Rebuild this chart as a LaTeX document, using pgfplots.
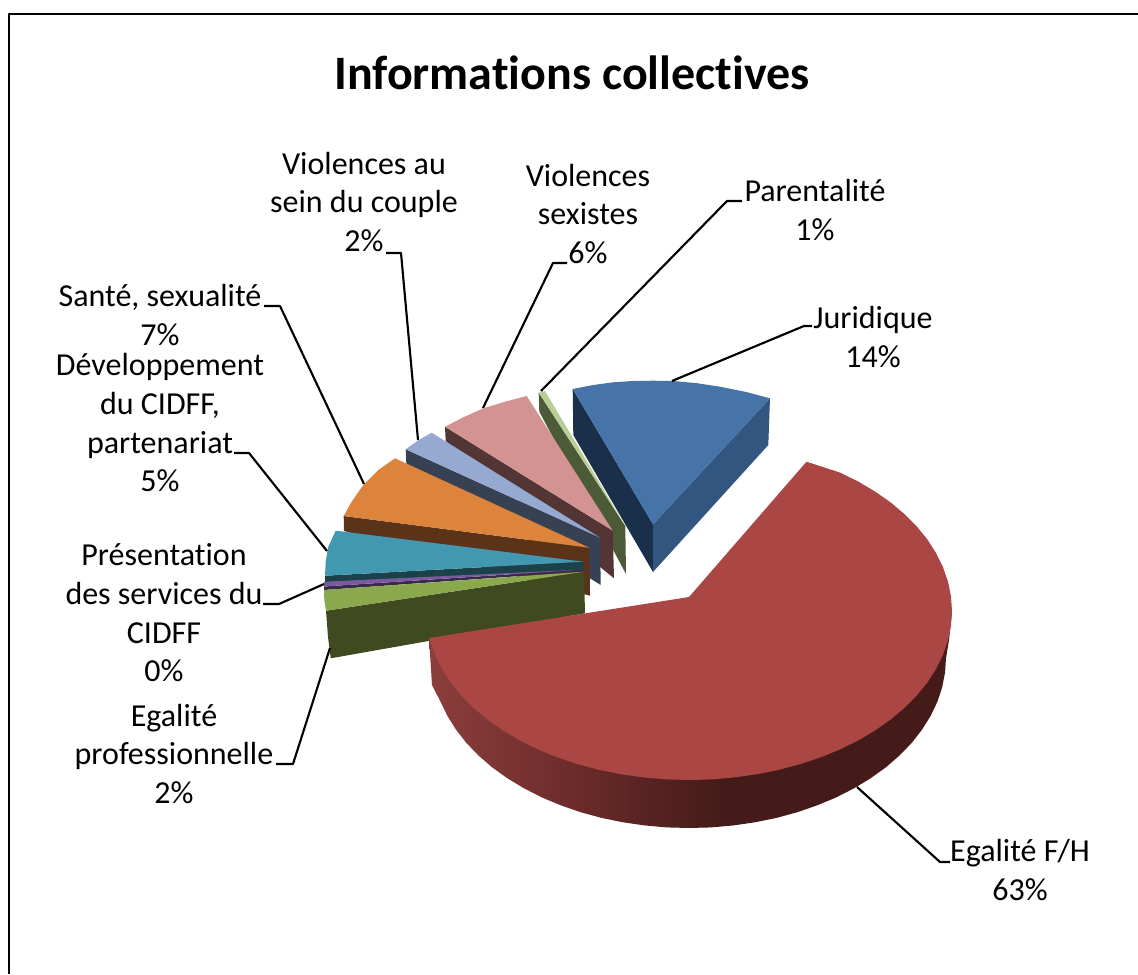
\documentclass[border=0pt]{standalone}
\usepackage{pgfplots}
\pgfplotsset{compat=1.18}
\usepackage{fontspec}
\setmainfont{Carlito}[Ligatures=CommonOff]
\definecolor{wallA}{HTML}{8C3E3B}
\definecolor{wallB}{HTML}{682A29}
\definecolor{wallC}{HTML}{441B18}
% Side wall of the large slice: lighter on the left, dark from the middle onwards
\pgfdeclarehorizontalshading{wallshade}{100bp}{
  color(0bp)=(wallA); color(25bp)=(wallA); color(40bp)=(wallB);
  color(53bp)=(wallC); color(100bp)=(wallC)}
\definecolor{rouge}{HTML}{AA4643}
\definecolor{bleu}{HTML}{4674A8}
\definecolor{bleuD}{HTML}{335680}
\definecolor{bleuN}{HTML}{1A2F49}
\definecolor{vertC}{HTML}{B9CD96}
\definecolor{vertCd}{HTML}{4D5A38}
\definecolor{rose}{HTML}{D39393}
\definecolor{roseD}{HTML}{523534}
\definecolor{ciel}{HTML}{95A9D1}
\definecolor{cielD}{HTML}{364153}
\definecolor{orange}{HTML}{DC843C}
\definecolor{orangeD}{HTML}{5A3318}
\definecolor{teal2}{HTML}{4198B0}
\definecolor{teal2D}{HTML}{1B414B}
\definecolor{violet2}{HTML}{7A5A9E}
\definecolor{violet2D}{HTML}{3A2A4A}
\definecolor{vert}{HTML}{8AA84C}
\definecolor{vertD}{HTML}{404A21}
\newcommand{\lab}{\fontsize{24}{29}\selectfont}
\begin{document}
\begin{tikzpicture}
\begin{axis}[
  scale only axis, width=853.5pt, height=730.5pt,
  xmin=0, xmax=1138, ymin=0, ymax=974, y dir=reverse,
  hide axis, no marks, clip=true,
  every axis plot/.append style={line join=round},
  leader/.style={draw=black, line width=1.6pt},
  pan/.style={fill=#1, draw=none},
]
% full extent of the page
\path (rel axis cs:0,0) rectangle (rel axis cs:1,1);
% frame of the chart area: left and top edges only
\addplot[draw=black, line width=1.6pt] coordinates {(9,974) (9,14) (1138,14)};

% Juridique 14%
\addplot[pan=bleuN] coordinates {(572.7,389) (573.3,435) (653,572) (653,524.3)} --cycle;
\addplot[pan=bleuD] coordinates {(770,398.3) (768.3,445) (653,572) (653,524.3)} --cycle;
\addplot[pan=bleu] coordinates {(572.7,389) (592,385.2) (613,382.3) (633,381) (653,380.7) (673,381) (697,383.2) (720,386.7) (745,391.7) (770,398.3) (653,524.3)} --cycle;

% Parentalite 1%
\addplot[pan=vertCd] coordinates {(538.7,392.7) (539.3,411.7) (626,574) (625.3,526)} --cycle;
\addplot[pan=vertC] coordinates {(538.7,392.7) (545,391) (625.3,526)} --cycle;

% Violences sexistes 6%
\addplot[pan=roseD] coordinates {(445,426.7) (445.7,441) (614,578.3) (612.7,530.7)} --cycle;
\addplot[pan=rose] coordinates {(445,426.7) (463.3,417.3) (483.3,408.3) (505,401.7) (526.7,396) (612.7,530.7)} --cycle;

% Violences au sein du couple 2%
\addplot[pan=cielD] coordinates {(405.7,449.3) (406.3,463.3) (600.7,585) (600,537.7)} --cycle;
\addplot[pan=ciel] coordinates {(405.7,449.3) (418,440.5) (431.7,432.7) (600,537.7)} --cycle;

% Sante, sexualite 7%
\addplot[pan=orangeD] coordinates {(343.7,516) (344,531) (590,595.7) (589.3,547.7)} --cycle;
\addplot[pan=orange] coordinates {(343.7,516) (351.7,501.7) (363.3,485) (378.3,470) (395,458.3) (589.3,547.7)} --cycle;

% Developpement du CIDFF, partenariat 5%
\addplot[pan=teal2D] coordinates {(325,575.7) (325,582.3) (584,570) (583.3,561.7)} --cycle;
\addplot[pan=teal2] coordinates {(335.7,530.7) (328.3,546.7) (325.8,561) (325,575.7) (583.3,561.7)} --cycle;

% Presentation des services du CIDFF 0%
\addplot[pan=violet2D] coordinates {(324,586.5) (324,590) (584,571.5) (584,569.5)} --cycle;
\addplot[pan=violet2] coordinates {(324,581.7) (324,586.5) (584,569.5)} --cycle;

% Egalite professionnelle 2%
\addplot[pan=vertD] coordinates {(326,610.7) (328,637) (330.7,658.3) (585,613.3) (584,571.7)} --cycle;
\addplot[pan=vert] coordinates {(324,590) (324.3,600) (326,610.7) (584,571.7)} --cycle;

% Egalite F/H 63%: side wall, then top face
\addplot[draw=none, shading=wallshade] coordinates {
  (429,638) (432,685) (440.7,702) (447.5,716.1) (456.1,729.8) (466.4,743) (478.5,755.5)
  (492.1,767.3) (507.3,778.2) (523.8,788.2) (541.6,797.3) (560.5,805.2) (580.3,812.1)
  (601.1,817.8) (622.5,822.2) (644.3,825.4) (666.6,827.4) (689,828) (711.4,827.4)
  (733.7,825.4) (755.5,822.2) (776.9,817.8) (797.7,812.1) (817.5,805.2) (836.4,797.3)
  (854.2,788.2) (870.7,778.2) (885.9,767.3) (899.5,755.5) (911.6,743) (921.9,729.8)
  (930.5,716.1) (937.3,702) (942.1,687.5) (945,672.8) (946,658) (949,640) (952,611)} --cycle;
\addplot[pan=rouge] coordinates {
  (689,597) (806.5,461.7) (840,472.6) (858.1,481.5) (875,491.5) (890.5,502.3) (904.4,514)
  (916.8,526.5) (927.4,539.5) (936.1,553.2) (943,567.2) (948,581.6) (951,596.3) (952,611)
  (951,625.7) (948,640.3) (943,654.8) (936.1,668.8) (927.4,682.4) (916.8,695.5) (904.4,708)
  (890.5,719.6) (875,730.5) (858.1,740.5) (840,749.4) (820.5,757.4) (800.2,764.1) (779,769.8)
  (757.1,774.2) (734.7,777.4) (711.9,779.4) (689,780) (666.1,779.4) (643.3,777.4) (620.9,774.2)
  (599,769.8) (577.8,764.1) (557.5,757.4) (538,749.4) (519.9,740.5) (503,730.5) (487.5,719.6)
  (473.6,708) (461.2,695.5) (450.6,682.4) (441.9,668.8) (435,654.7) (429,638)} --cycle;

% leader lines
\addplot[leader] coordinates {(672,381) (804,326) (812,326)};
\addplot[leader] coordinates {(541,391) (727,201) (742,201)};
\addplot[leader] coordinates {(483,408) (553,263) (567,263)};
\addplot[leader] coordinates {(418,440) (401,253) (386,253)};
\addplot[leader] coordinates {(364,484) (280,306) (264,306)};
\addplot[leader] coordinates {(327,551) (249,453) (234,453)};
\addplot[leader] coordinates {(324,584) (279,604) (263,604)};
\addplot[leader] coordinates {(330,648) (293,764) (276,764)};
\addplot[leader] coordinates {(857,787) (940,862) (950,862)};

% title and slice labels
\node[font=\fontsize{36}{42}\selectfont\bfseries, anchor=center] at (axis cs:572,73) {Informations collectives};
\node[font=\lab, align=center, anchor=center] at (axis cs:364,202) {Violences au\\sein du couple\\2\%};
\node[font=\lab, align=center, anchor=center] at (axis cs:588,214) {Violences\\sexistes\\6\%};
\node[font=\lab, align=center, anchor=center] at (axis cs:815,210) {Parentalité\\1\%};
\node[font=\lab, align=center, anchor=center] at (axis cs:873,337) {Juridique\\14\%};
\node[font=\lab, align=center, anchor=center] at (axis cs:160,315) {Santé, sexualité\\7\%};
\node[font=\lab, align=center, anchor=center] at (axis cs:160,423) {Développement\\du CIDFF,\\partenariat\\5\%};
\node[font=\lab, align=center, anchor=center] at (axis cs:164,613) {Présentation\\des services du\\CIDFF\\0\%};
\node[font=\lab, align=center, anchor=center] at (axis cs:174,754) {Egalité\\professionnelle\\2\%};
\node[font=\lab, align=center, anchor=center] at (axis cs:1020,870) {Egalité F/H\\63\%};
\end{axis}
\end{tikzpicture}
\end{document}
